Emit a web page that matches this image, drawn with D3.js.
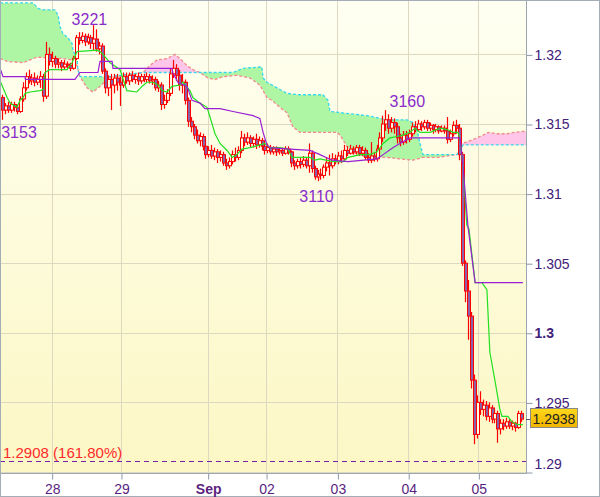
<!DOCTYPE html>
<html><head><meta charset="utf-8">
<script src="https://cdn.jsdelivr.net/npm/d3@7"></script>
<style>body{margin:0;background:#fff}svg{display:block}</style>
</head><body><svg id="c" width="600" height="497"></svg>
<script>
// Hourly candles, prices quoted in pips: 3160 = 1.3160
const opens = [3169,3160,3163,3160,3164,3162,3159,3168,3176,3184,
3181,3183,3180,3182,3184,3170,3200,3195,3197,3193,
3194,3191,3193,3192,3190,3197,3212,3210,3213,3209,
3212,3208,3211,3204,3206,3188,3176,3182,3178,3183,
3180,3178,3184,3181,3185,3182,3184,3181,3184,3182,
3184,3181,3182,3176,3178,3164,3167,3172,3186,3190,
3185,3178,3180,3167,3152,3148,3142,3138,3141,3134,
3128,3131,3127,3130,3126,3128,3122,3120,3123,3128,
3126,3131,3140,3137,3140,3136,3139,3135,3138,3134,
3131,3133,3130,3132,3130,3131,3129,3132,3130,3122,
3120,3123,3121,3124,3120,3129,3118,3112,3114,3113,
3119,3122,3120,3125,3123,3127,3125,3131,3129,3132,
3130,3133,3129,3131,3126,3124,3127,3125,3132,3140,
3150,3153,3147,3151,3148,3140,3137,3142,3139,3143,
3148,3146,3150,3148,3151,3147,3149,3146,3148,3145,
3147,3145,3139,3143,3149,3147,3128,3050,3030,3012,
2966,2927,2950,2945,2948,2940,2946,2938,2942,2931,
2935,2933,2936,2933,2935,2932,2942];
const highs = [3171,3165,3166,3166,3166,3164,3170,3180,3187,3189,
3186,3187,3185,3188,3186,3209,3205,3202,3199,3197,
3196,3196,3195,3194,3199,3214,3216,3216,3215,3215,
3214,3221,3218,3209,3208,3190,3185,3186,3186,3186,
3184,3187,3187,3187,3188,3186,3187,3186,3186,3187,
3186,3185,3184,3181,3180,3171,3175,3190,3196,3193,
3189,3186,3182,3169,3155,3150,3146,3144,3143,3139,
3134,3135,3133,3132,3131,3130,3125,3126,3131,3133,
3134,3145,3143,3144,3142,3141,3143,3141,3140,3137,
3136,3135,3134,3134,3133,3133,3134,3134,3131,3124,
3125,3126,3127,3126,3136,3131,3120,3117,3118,3121,
3126,3128,3129,3128,3130,3131,3135,3134,3135,3134,
3135,3135,3134,3133,3129,3137,3130,3135,3144,3156,
3160,3157,3155,3154,3151,3143,3145,3145,3146,3151,
3152,3153,3152,3153,3153,3151,3150,3150,3149,3149,
3149,3155,3146,3152,3153,3150,3130,3052,3038,3015,
2970,2955,2958,2952,2951,2950,2948,2945,2944,2938,
2938,2939,2938,2937,2936,2944,2944];
const lows = [3153,3157,3158,3158,3159,3157,3158,3166,3174,3179,
3178,3177,3178,3176,3166,3168,3192,3191,3190,3190,
3188,3189,3190,3188,3189,3196,3207,3208,3206,3207,
3204,3203,3202,3200,3186,3172,3170,3160,3172,3174,
3163,3176,3179,3178,3180,3179,3178,3179,3180,3180,
3179,3178,3174,3173,3160,3161,3165,3170,3183,3181,
3174,3172,3164,3148,3144,3139,3136,3134,3131,3125,
3126,3125,3124,3122,3123,3120,3117,3118,3121,3123,
3124,3129,3134,3135,3133,3133,3132,3133,3131,3128,
3129,3128,3128,3127,3128,3127,3128,3128,3119,3117,
3118,3118,3119,3118,3115,3115,3110,3109,3110,3111,
3116,3113,3118,3121,3121,3122,3123,3127,3128,3128,
3128,3127,3127,3124,3122,3122,3123,3123,3128,3137,
3145,3143,3144,3143,3136,3134,3135,3136,3137,3141,
3144,3145,3145,3146,3145,3145,3143,3144,3143,3144,
3143,3136,3137,3141,3143,3124,3048,3022,2995,2960,
2920,2924,2941,2940,2937,2936,2935,2935,2921,2927,
2930,2931,2931,2930,2929,2931,2936];
const closes = [3160,3163,3160,3164,3162,3159,3168,3176,3184,3181,
3183,3180,3182,3184,3170,3200,3195,3197,3193,3194,
3191,3193,3192,3190,3197,3212,3210,3213,3209,3212,
3208,3211,3204,3206,3188,3176,3182,3178,3183,3180,
3178,3184,3181,3185,3182,3184,3181,3184,3182,3184,
3181,3182,3176,3178,3164,3167,3172,3186,3190,3185,
3178,3180,3167,3152,3148,3142,3138,3141,3134,3128,
3131,3127,3130,3126,3128,3122,3120,3123,3128,3126,
3131,3140,3137,3140,3136,3139,3135,3138,3134,3131,
3133,3130,3132,3130,3131,3129,3132,3130,3122,3120,
3123,3121,3124,3120,3129,3118,3112,3114,3113,3119,
3122,3120,3125,3123,3127,3125,3131,3129,3132,3130,
3133,3129,3131,3126,3124,3127,3125,3132,3140,3150,
3153,3147,3151,3148,3140,3137,3142,3139,3143,3148,
3146,3150,3148,3151,3147,3149,3146,3148,3145,3147,
3145,3139,3143,3149,3147,3128,3050,3030,3012,2966,
2927,2950,2945,2948,2940,2946,2938,2942,2931,2935,
2933,2936,2933,2935,2932,2942,2938];

// Ichimoku lines: [bar index, pips]
const tenkan = [[-1,3181],[1.4,3169],[2.4,3165],[4.7,3162],[5.8,3167],[6.8,3169],[7.5,3172],[9.2,3173],[12.5,3174],[13.9,3175],[14.2,3187],[15.9,3189],[21.7,3189],[23.4,3194],[25.1,3202],[31.9,3203],[32.9,3202],[33.9,3200],[36.3,3194],[39.7,3189],[42.0,3174],[45.4,3173],[47.1,3177],[48.8,3180],[50.9,3180],[52.6,3178],[53.9,3174],[55.6,3173],[57.3,3177],[60.0,3178],[61.0,3180],[63.4,3174],[64.4,3169],[66.8,3165],[69.2,3162],[70.2,3155],[71.9,3143],[73.6,3136],[76.0,3131],[77.7,3126],[79.3,3128],[81.0,3132],[83.8,3133],[87.1,3135],[88.8,3136],[90.5,3133],[93.9,3133],[96.6,3132],[98.0,3126],[100.7,3126],[104.1,3126],[105.8,3124],[107.5,3125],[111.9,3123],[115.3,3123],[117.0,3126],[121.1,3128],[124.4,3128],[126.8,3130],[128.9,3136],[131.2,3140],[133.6,3141],[135.6,3142],[138.0,3144],[139.7,3147],[141.4,3144],[144.8,3144],[148.2,3147],[150.6,3146],[152.6,3144],[154.3,3144],[155.0,3139],[156.0,3119],[157.3,3077],[158.0,3075],[160.1,3036],[162.4,3036],[164.1,3031],[165.1,2986],[166.8,2966],[168.5,2945],[169.2,2940],[171.2,2940],[172.6,2936],[174.6,2934],[176.3,2934]];
const kijun = [[-1,3190],[0,3184],[7.5,3184],[7.6,3182],[24.4,3182],[26.1,3187],[32.2,3187],[32.9,3195],[37.0,3195],[37.3,3190],[57.3,3190],[57.6,3187],[59.3,3180],[62.4,3177],[64.1,3167],[66.8,3165],[68.5,3161],[73.6,3161],[78.0,3159],[84.8,3156],[87.1,3154],[88.2,3144],[89.5,3135],[90.5,3133],[97.3,3132],[104.1,3131],[107.5,3128],[111.6,3124],[117.0,3123],[126.8,3125],[128.9,3128],[132.2,3133],[134.6,3136],[138.0,3140],[155.0,3140],[156.0,3119],[157.7,3076],[160.1,3036],[176.3,3036]];
const spanA = [[-1,3237],[10.2,3237],[11.9,3233],[13.6,3232],[17.6,3232],[18.7,3228],[19.3,3220],[20.3,3215],[22.0,3212],[23.4,3208],[23.7,3203],[25.1,3197],[25.4,3189],[26.1,3184],[36.3,3184],[39.7,3185],[47.5,3187],[66.8,3187],[70.2,3187],[78.0,3187],[81.4,3190],[87.8,3191],[88.2,3183],[89.5,3180],[92.9,3176],[96.3,3172],[100.7,3171],[108.5,3171],[110.2,3167],[110.9,3159],[123.4,3156],[130.2,3153],[137.0,3153],[139.0,3151],[140.4,3146],[141.4,3136],[142.4,3128],[153.9,3128],[155.0,3131],[156.0,3135],[177.4,3135]];
const spanB = [[-1,3197],[1.4,3195],[6.8,3194],[9.2,3196],[11.5,3198],[20.3,3197],[23.4,3196],[25.1,3192],[26.1,3184],[28.5,3176],[30.5,3173],[32.9,3177],[35.3,3182],[37.0,3184],[39.7,3184],[47.5,3187],[49.8,3192],[52.2,3196],[55.6,3197],[58.3,3200],[60.0,3197],[62.4,3192],[64.4,3189],[66.8,3187],[69.5,3183],[71.9,3182],[74.6,3184],[79.3,3185],[83.8,3183],[87.1,3178],[89.5,3169],[91.2,3167],[93.9,3162],[96.3,3158],[98.3,3148],[100.7,3144],[106.5,3144],[113.3,3144],[114.3,3142],[116.6,3134],[120.0,3128],[123.4,3126],[130.2,3126],[139.0,3124],[142.4,3126],[147.2,3126],[153.9,3128],[155.0,3131],[155.6,3136],[158.4,3138],[160.7,3140],[162.8,3142],[164.5,3144],[167.5,3143],[170.9,3143],[173.6,3144],[177.4,3145]];

const yTicks = [1.29, 1.295, 1.3, 1.305, 1.31, 1.315, 1.32];
const yTickLabels = ["1.29", "1.295", "1.3", "1.305", "1.31", "1.315", "1.32"];
const xTickBars = [16.5, 40.0, 69.4, 89.2, 113.4, 137.4, 161.2];
const xTickLabels = ["28", "29", "Sep", "02", "03", "04", "05"];
const extremes = [{label:"3221", bar:31, type:"high"}, {label:"3153", bar:0, type:"low"}, {label:"3110", bar:107, type:"low"}, {label:"3160", bar:130, type:"high"}];
const fibLevel = 1.2908, fibText = "1.2908 (161.80%)";
const lastPrice = 1.2938;

// ---------- layout ----------
const W = 600, H = 497, PR = 526, PB = 473;
const toP = v => 1 + v / 10000;
const svg = d3.select("#c");
const FONT = "'Liberation Sans', Arial, sans-serif";
const x = d3.scaleLinear().domain([0, 176]).range([3, 522]);
const y = d3.scaleLinear().domain([1.29, 1.32]).range([472, 54.4]);

const defs = svg.append("defs");
const gr = defs.append("linearGradient").attr("id","bg").attr("x1",0).attr("y1",0).attr("x2",0).attr("y2",1);
gr.append("stop").attr("offset","0%").attr("stop-color","#fefff2");
gr.append("stop").attr("offset","100%").attr("stop-color","#fcf7c4");
const gg = defs.append("linearGradient").attr("id","gold").attr("x1",0).attr("y1",0).attr("x2",0).attr("y2",1);
gg.append("stop").attr("offset","0%").attr("stop-color","#ffd81a");
gg.append("stop").attr("offset","100%").attr("stop-color","#f0b400");
defs.append("clipPath").attr("id","plot").append("rect").attr("x",0).attr("y",0).attr("width",PR).attr("height",PB);

svg.append("rect").attr("width",W).attr("height",H).attr("fill","#fff");
svg.append("rect").attr("width",PR).attr("height",PB).attr("fill","url(#bg)");

// grid
const grid = svg.append("g").attr("stroke","#dcd9c0").attr("stroke-width",1);
grid.selectAll("line.h").data(yTicks).join("line").attr("class","h")
  .attr("x1",0).attr("x2",PR).attr("y1",d=>Math.round(y(d))+0.5).attr("y2",d=>Math.round(y(d))+0.5);
grid.selectAll("line.v").data(xTickBars).join("line").attr("class","v")
  .attr("y1",0).attr("y2",PB).attr("x1",d=>Math.round(x(d))+0.5).attr("x2",d=>Math.round(x(d))+0.5);

const plot = svg.append("g").attr("clip-path","url(#plot)");

// cloud
const pt = d => [x(d[0]), y(toP(d[1]))];
const A = spanA.map(pt), B = spanB.map(pt);
const poly = "M" + A.concat(B.slice().reverse()).map(p=>p.join(",")).join("L") + "Z";
const bLine = B.map(p=>p.join(",")).join("L");
defs.append("clipPath").attr("id","aboveB").append("path")
  .attr("d","M"+bLine+"L"+B[B.length-1][0]+",-20L"+B[0][0]+",-20Z");
defs.append("clipPath").attr("id","belowB").append("path")
  .attr("d","M"+bLine+"L"+B[B.length-1][0]+","+(H+20)+"L"+B[0][0]+","+(H+20)+"Z");
plot.append("path").attr("d",poly).attr("fill","#aef5a4").attr("clip-path","url(#aboveB)");
plot.append("path").attr("d",poly).attr("fill","#ffc6ea").attr("clip-path","url(#belowB)");
const lineGen = d3.line().x(d=>x(d[0])).y(d=>y(toP(d[1])));
plot.append("path").attr("d",lineGen(spanB)).attr("fill","none").attr("stroke","#f28a8a").attr("stroke-width",1.3).attr("stroke-dasharray","3,2");
plot.append("path").attr("d",lineGen(spanA)).attr("fill","none").attr("stroke","#38d8ee").attr("stroke-width",1.3).attr("stroke-dasharray","3,2");

// candles
const bars = closes.map((c,i)=>({i, o:toP(opens[i]), h:toP(highs[i]), l:toP(lows[i]), c:toP(c)}));
const cg = plot.append("g");
cg.selectAll("line").data(bars).join("line")
  .attr("x1",d=>Math.round(x(d.i))-0.5).attr("x2",d=>Math.round(x(d.i))-0.5)
  .attr("y1",d=>y(d.h)).attr("y2",d=>y(d.l)).attr("stroke","#ff0000").attr("stroke-width",1.2);
cg.selectAll("rect").data(bars).join("rect")
  .attr("x",d=>Math.round(x(d.i))-1.5).attr("width",3)
  .attr("y",d=>y(Math.max(d.o,d.c))).attr("height",d=>Math.max(1,Math.abs(y(d.o)-y(d.c))))
  .attr("fill",d=>d.c<d.o?"#8d5fa6":"#fffbe0").attr("stroke","#ff0000").attr("stroke-width",1);

// tenkan / kijun
plot.append("path").attr("d",lineGen(tenkan)).attr("fill","none").attr("stroke","#22e022").attr("stroke-width",1.2);
plot.append("path").attr("d",lineGen(kijun)).attr("fill","none").attr("stroke","#9a1fd4").attr("stroke-width",1.2);

// fib level
plot.append("line").attr("x1",0).attr("x2",PR).attr("y1",Math.round(y(fibLevel))+0.5).attr("y2",Math.round(y(fibLevel))+0.5)
  .attr("stroke","#7a1fa8").attr("stroke-width",1).attr("stroke-dasharray","5,4");
svg.append("text").attr("x",3).attr("y",y(fibLevel)-3).attr("font-family",FONT).attr("font-size",15)
  .attr("fill","#ff2a2a").text(fibText);

// extreme labels
const nudge = {"3221":[-5,0], "3153":[16,18], "3110":[-2,21], "3160":[21,-3]};
svg.selectAll("text.ext").data(extremes).join("text").attr("class","ext")
  .attr("x",d=>x(d.bar)+nudge[d.label][0])
  .attr("y",d=>y(d.type==="high"?bars[d.bar].h:bars[d.bar].l)+nudge[d.label][1])
  .attr("text-anchor","middle").attr("font-family",FONT).attr("font-size",16).attr("fill","#8a2bcc").text(d=>d.label);

// frame
svg.append("line").attr("x1",PR+0.5).attr("x2",PR+0.5).attr("y1",0).attr("y2",PB+0.5).attr("stroke","#9ba6b0");
svg.append("line").attr("x1",0).attr("x2",PR+0.5).attr("y1",PB+0.5).attr("y2",PB+0.5).attr("stroke","#9ba6b0");
svg.append("rect").attr("x",0.5).attr("y",0.5).attr("width",W-1).attr("height",H-1).attr("fill","none").attr("stroke","#a4adb6");

// axes
const yAxis = svg.append("g").attr("transform",`translate(${PR+0.5},0.5)`)
  .call(d3.axisRight(y).tickValues(yTicks).tickSize(6).tickPadding(2).tickFormat((d,i)=>yTickLabels[i]));
yAxis.select(".domain").remove();
yAxis.selectAll("line").attr("stroke","#8d98a3");
yAxis.selectAll("text").attr("font-family",FONT).attr("font-size",14).attr("fill","#43207a")
  .attr("font-weight",d=>d===1.3?"bold":"normal")
  .attr("transform",d=>y(d)>PB-6?"translate(0,-8)":null);
const xAxis = svg.append("g").attr("transform",`translate(0.5,${PB+0.5})`)
  .call(d3.axisBottom(x).tickValues(xTickBars).tickSize(6).tickPadding(5).tickFormat((d,i)=>xTickLabels[i]));
xAxis.select(".domain").remove();
xAxis.selectAll("line").attr("stroke","#8d98a3");
xAxis.selectAll("text").attr("font-family",FONT).attr("font-size",14).attr("fill","#5a1f80")
  .attr("font-weight",(d,i)=>xTickLabels[i]==="Sep"?"bold":"normal");

// last price tag
const ly = Math.round(y(lastPrice));
svg.append("line").attr("x1",PR).attr("x2",531).attr("y1",ly+0.5).attr("y2",ly+0.5).attr("stroke","#555");
svg.append("rect").attr("x",530.5).attr("y",ly-10.5).attr("width",47).attr("height",19).attr("fill","url(#gold)").attr("stroke","#8a8a8a");
svg.append("text").attr("x",554).attr("y",ly+5).attr("text-anchor","middle").attr("font-family",FONT).attr("font-size",14)
  .attr("fill","#222").text(lastPrice.toFixed(4));
</script></body></html>
